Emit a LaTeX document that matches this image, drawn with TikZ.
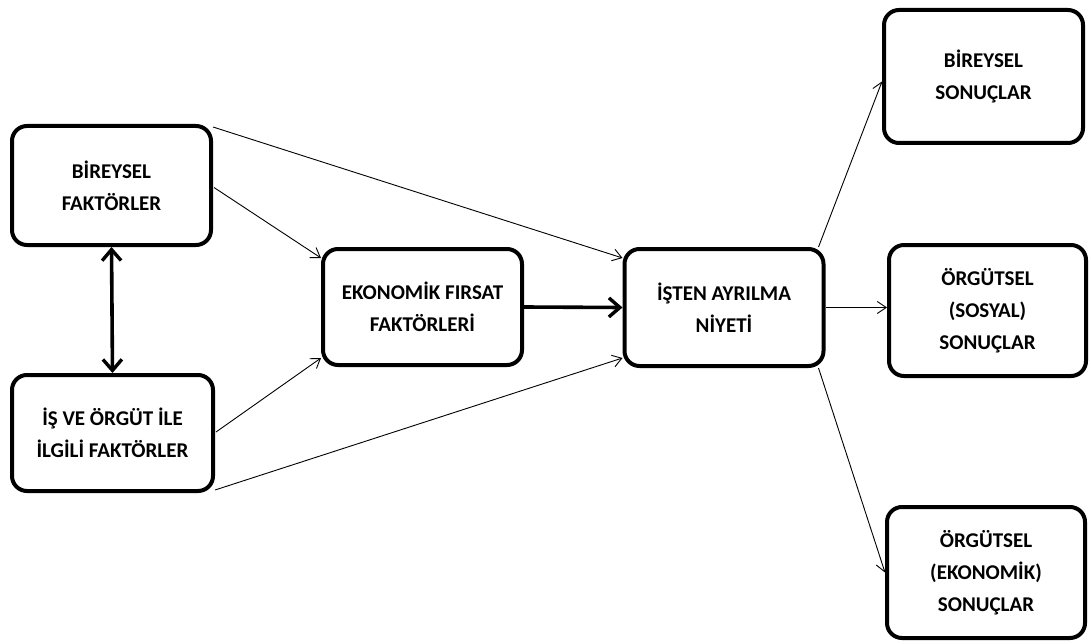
\documentclass[tikz,border=0pt]{standalone}
\usepackage{fontspec}
\setmainfont{Carlito}
\usetikzlibrary{arrows.meta,calc}
\begin{document}
\begin{tikzpicture}[x=1pt,y=-1pt,
  box/.style={draw=black,line width=4pt,rounded corners=15pt,fill=white,
    minimum width=199pt,align=center,inner sep=2pt,
    font=\bfseries\fontsize{21}{32}\selectfont},
  thin/.style={line width=0.9pt,-{Straight Barb[length=9pt,width=12pt]}},
  bighead/.tip={Straight Barb[length=11pt,width=19pt,line width=3.4pt]},
  heavy/.style={line width=3.6pt,-bighead},
  heavyboth/.style={line width=3.6pt,bighead-bighead}]
\useasboundingbox (0,0) rectangle (1091,644);
% factor boxes
\node[box,minimum height=119pt] (bf) at (111.5,185.5) {BİREYSEL\\FAKTÖRLER};
\node[box,minimum height=116pt,minimum width=201pt] (io) at (112.5,433) {İŞ VE ÖRGÜT İLE\\İLGİLİ FAKTÖRLER};
\node[box,minimum height=116pt] (ef) at (422.5,307) {EKONOMİK FIRSAT\\FAKTÖRLERİ};
\node[box,minimum height=117pt] (ia) at (724,307.5) {İŞTEN AYRILMA\\NİYETİ};
% outcome boxes
\node[box,minimum height=133pt] (bs) at (983.5,76.5) {BİREYSEL\\SONUÇLAR};
\node[box,minimum height=131pt,minimum width=197pt] (os) at (987.5,310.5) {ÖRGÜTSEL\\(SOSYAL)\\SONUÇLAR};
\node[box,minimum height=131pt,minimum width=198pt] (oe) at (986,572.5) {ÖRGÜTSEL\\(EKONOMİK)\\SONUÇLAR};
% connectors
\draw[heavyboth] (bf.south) -- (io.north);
\draw[heavy] (ef.east) -- (ia.west);
\draw[thin] ($(bf.north east)+(0,3)$) -- ($(ia.north west)+(0,11)$);
\draw[thin] ($(bf.east)+(1,2)$) -- ($(ef.north west)+(0,11)$);
\draw[thin] ($(io.east)+(1,-1)$) -- ($(ef.south west)+(0,-9)$);
\draw[thin] ($(io.south east)+(0,-3)$) -- ($(ia.south west)+(0,-10)$);
\draw[thin] ($(ia.north east)+(-7,0)$) -- ($(bs.west)+(0,5)$);
\draw[thin] (ia.east) -- (ia.east -| os.west);
\draw[thin] ($(ia.south east)+(-7,0)$) -- (oe.west);
\end{tikzpicture}
\end{document}
